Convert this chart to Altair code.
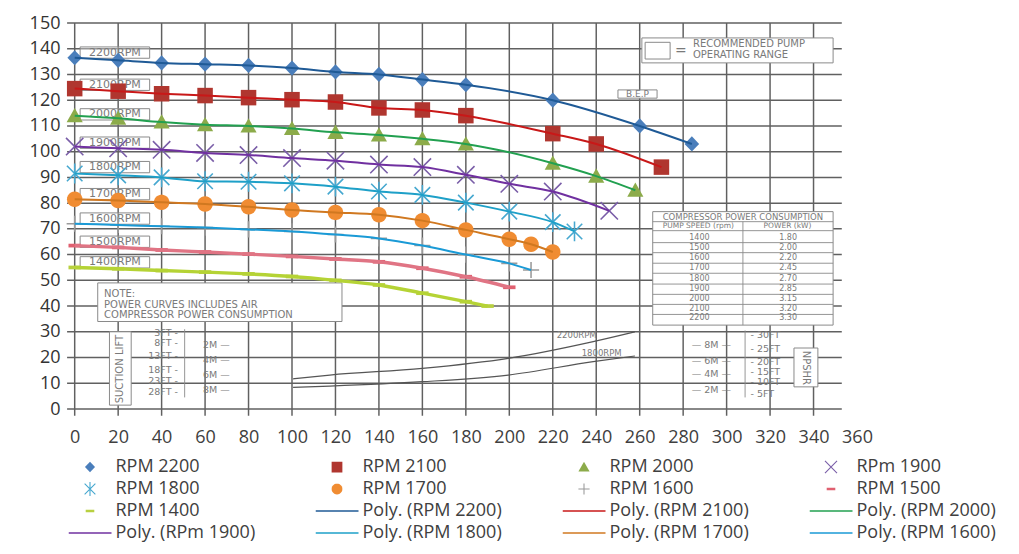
import math
import altair as alt
import pandas as pd

# ---------------- data ----------------
x_2200 = [0, 20, 40, 60, 80, 100, 120, 140, 160, 180, 220, 260, 284]
y_2200 = [136.5, 135.5, 134.5, 134, 133.5, 132.5, 131, 130, 128, 126, 120, 110, 103]
x_2100 = [0, 20, 40, 60, 80, 100, 120, 140, 160, 180, 220, 240, 270]
y_2100 = [124.5, 123.5, 122.5, 121.8, 121, 120.2, 119.3, 117, 116.2, 114, 107, 103, 94]
x_2000 = [0, 20, 40, 60, 80, 100, 120, 140, 160, 180, 220, 240, 258]
y_2000 = [114, 113, 111.5, 110.5, 110, 109, 107.5, 106.5, 105, 103, 95.5, 90.5, 85]
x_1900 = [0, 20, 40, 60, 80, 100, 120, 140, 160, 180, 200, 220, 246]
y_1900 = [102, 101.3, 100.7, 99.5, 98.7, 97.5, 96.5, 95, 94, 91, 87.5, 84.5, 77]
x_1800 = [0, 20, 40, 60, 80, 100, 120, 140, 160, 180, 200, 220, 230]
y_1800 = [91.5, 90.8, 90, 88.5, 88.3, 87.7, 86.4, 84.5, 83.2, 80.2, 76.7, 72.6, 69]
x_1700 = [0, 20, 40, 60, 80, 100, 120, 140, 160, 180, 200, 210, 220]
y_1700 = [81.5, 81, 80.3, 79.7, 78.6, 77.3, 76.4, 75.5, 73.2, 69.6, 66, 64, 61]
x_1600 = [0, 20, 40, 60, 80, 100, 120, 140, 160, 180, 200, 210]
y_1600 = [72, 71.5, 71, 70.5, 69.8, 69, 67.8, 66.3, 63.5, 60, 56.6, 54]
x_1500 = [0, 20, 40, 60, 80, 100, 120, 140, 160, 180, 200]
y_1500 = [63.5, 62.8, 61.8, 61, 60.2, 59.3, 58.3, 57.2, 54.7, 51.4, 47.3]
x_1400 = [0, 20, 40, 60, 80, 100, 120, 140, 160, 180, 190]
y_1400 = [55, 54.5, 53.8, 53.2, 52.5, 51.5, 50, 48.2, 45, 41.7, 40]

series_names = ["RPM 2200", "RPM 2100", "RPM 2000", "RPm 1900", "RPM 1800",
                "RPM 1700", "RPM 1600", "RPM 1500", "RPM 1400"]
series_x = [x_2200, x_2100, x_2000, x_1900, x_1800, x_1700, x_1600, x_1500, x_1400]
series_y = [y_2200, y_2100, y_2000, y_1900, y_1800, y_1700, y_1600, y_1500, y_1400]

poly_names = ["Poly. (RPM 2200)", "Poly. (RPM 2100)", "Poly. (RPM 2000)", "Poly. (RPm 1900)",
              "Poly. (RPM 1800)", "Poly. (RPM 1700)", "Poly. (RPM 1600)"]

x_ticks = list(range(0, 361, 20))
y_ticks = list(range(0, 151, 10))
sheet_x_lines = list(range(0, 341, 20))

# background drawing (pump curve sheet) texts
rpm_box_labels = ["2200RPM", "2100RPM", "2000RPM", "1900RPM", "1800RPM",
                  "1700RPM", "1600RPM", "1500RPM", "1400RPM"]
rpm_box_y = [138.5, 126, 114.5, 103.5, 94, 83.5, 74, 65, 57]

table_speed = ["1400", "1500", "1600", "1700", "1800", "1900", "2000", "2100", "2200"]
table_power = ["1.80", "2.00", "2.20", "2.45", "2.70", "2.85", "3.15", "3.20", "3.30"]
table_row_y = [66.6, 62.7, 58.6, 54.7, 50.5, 46.5, 42.6, 38.7, 35.2]

suction_ft = ["3FT", "8FT", "13FT", "18FT", "23FT", "28FT"]
suction_ft_y = [29.5, 25.5, 20.7, 15.2, 10.9, 6.6]
suction_m = ["2M", "4M", "6M", "8M"]
suction_m_y = [24.9, 19.0, 13.2, 7.4]
npshr_m = ["8M", "6M", "4M", "2M"]
npshr_m_y = [24.9, 18.7, 13.6, 7.4]
npshr_ft = ["30FT", "25FT", "20FT", "15FT", "10FT", "5FT"]
npshr_ft_y = [28.8, 23.2, 18.4, 14.5, 10.6, 5.7]

npshr2200_x = [100.5, 117.4, 160, 199.5, 238.6, 257.8]
npshr2200_y = [11.7, 13.2, 15.8, 19.7, 26.2, 30.0]
npshr1800_x = [100.5, 117.4, 160, 199.5, 238.6, 257.8]
npshr1800_y = [8.4, 8.9, 10.6, 13.2, 18.4, 20.6]

# ---------------- styling ----------------
marker_colors = ["#4a7ebb", "#b0362f", "#8cab4a", "#7a5ea8", "#46a8d0",
                 "#f08c32", "#9a9a9a", "#e06070", "#b8d040"]
poly_colors = ["#1f5a96", "#c81818", "#22a050", "#7030a0", "#1ea0c8", "#d07820", "#1a9ad6"]
line_1500 = "#e07484"
line_1400 = "#b5d335"
GRID = "#606060"
SHEET = "#8a8a8a"


def fmt(pts):
    return "M" + "L".join(f"{a:.3f},{b:.3f}" for a, b in pts) + "Z"


def bar(x1, y1, x2, y2, h):
    dx, dy = x2 - x1, y2 - y1
    L = math.hypot(dx, dy)
    nx, ny = -dy / L * h, dx / L * h
    return fmt([(x1 + nx, y1 + ny), (x2 + nx, y2 + ny), (x2 - nx, y2 - ny), (x1 - nx, y1 - ny)])


def poly_circle(r, n=24):
    return fmt([(r * math.cos(2 * math.pi * i / n), r * math.sin(2 * math.pi * i / n)) for i in range(n)])


shp_diamond = fmt([(0, -0.245), (0.235, 0), (0, 0.245), (-0.235, 0)])
shp_square = fmt([(-0.25, -0.25), (0.25, -0.25), (0.25, 0.25), (-0.25, 0.25)])
shp_triangle = fmt([(0, -0.25), (0.26, 0.21), (-0.26, 0.21)])
shp_x = bar(-0.28, -0.28, 0.28, 0.28, 0.025) + bar(-0.28, 0.28, 0.28, -0.28, 0.025)
shp_star = (bar(-0.25, -0.25, 0.25, 0.25, 0.025) + bar(-0.25, 0.25, 0.25, -0.25, 0.025)
            + bar(0, -0.32, 0, 0.32, 0.025))
shp_circle = poly_circle(0.25)
shp_plus = bar(-0.26, 0, 0.26, 0, 0.025) + bar(0, -0.26, 0, 0.26, 0.025)
shp_dash = bar(-0.2, 0, 0.2, 0, 0.06)
shp_line = bar(-1, 0, 1, 0, 0.035)

marker_shapes = [shp_diamond, shp_square, shp_triangle, shp_x, shp_star,
                 shp_circle, shp_plus, shp_dash, shp_dash]

legend_domain = series_names + poly_names
legend_colors = marker_colors + poly_colors
legend_shapes = marker_shapes + [shp_line] * len(poly_names)

rows = []
for name, xs, ys in zip(series_names, series_x, series_y):
    for a, b in zip(xs, ys):
        rows.append({"label": name, "x": a, "y": b})
pts = pd.DataFrame(rows)

XD = [-4, 360]
YD = [0, 150]
xs_ = alt.Scale(domain=XD, nice=False, zero=False)
ys_ = alt.Scale(domain=YD, nice=False, zero=False)
FONT = "Open Sans"
DFONT = "DejaVu Sans"

AXX = alt.Axis(values=x_ticks, grid=False, domain=False, ticks=False,
               labelFontSize=18, labelPadding=19, labelColor="#404040",
               labelFont=FONT, labelFlush=False, title=None)
AXY = alt.Axis(values=y_ticks, grid=False, domain=False, ticks=False,
               labelFontSize=18, labelPadding=6, labelColor="#333333",
               labelFont=FONT, labelFlush=False, title=None)


def X(f):
    return alt.X(f, scale=xs_, axis=AXX)


def Y(f):
    return alt.Y(f, scale=ys_, axis=AXY)


layers = []

# ---------------- background sheet ----------------
# grid of the sheet drawn as thin filled strips
grid_rows = ([{"x": v - 0.34, "x2": v + 0.34, "y": -2.6, "y2": 150} for v in sheet_x_lines]
             + [{"x": -3.5, "x2": 353, "y": v - 0.29, "y2": v + 0.29} for v in y_ticks])
layers.append(alt.Chart(pd.DataFrame(grid_rows)).mark_rect(fill=GRID, fillOpacity=1, strokeWidth=0)
              .encode(x=X("x:Q"), x2="x2:Q", y=Y("y:Q"), y2="y2:Q"))

rpm_boxes = pd.DataFrame([{"x": 2.5, "x2": 34.5, "y": v - 2.2, "y2": v + 2.2} for v in rpm_box_y])
layers.append(alt.Chart(rpm_boxes).mark_rect(fill="white", fillOpacity=0.35, stroke=SHEET, strokeWidth=1)
              .encode(x=X("x:Q"), x2="x2:Q", y=Y("y:Q"), y2="y2:Q"))

boxes = pd.DataFrame(
    [{"x": 10.6, "x2": 123, "y": 34, "y2": 49},          # NOTE
     {"x": 261, "x2": 349, "y": 134.5, "y2": 144.2},     # recommended range
     {"x": 262.5, "x2": 274, "y": 136, "y2": 142.5},     # icon
     {"x": 266, "x2": 349, "y": 32.6, "y2": 76.7},       # table
     {"x": 250, "x2": 268, "y": 120.8, "y2": 124},       # BEP
     {"x": 16, "x2": 26, "y": 1.5, "y2": 30},            # suction lift label box
     {"x": 331, "x2": 342, "y": 8.6, "y2": 23.7}]        # NPSHR label box
)
layers.append(alt.Chart(boxes).mark_rect(fill="white", fillOpacity=1, stroke=SHEET, strokeWidth=1)
              .encode(x=X("x:Q"), x2="x2:Q", y=Y("y:Q"), y2="y2:Q"))

thin = ([{"x": 266, "x2": 349, "y": v, "y2": v} for v in [72.8, 69.3] + [ry - 1.95 for ry in table_row_y[:-1]]]
        + [{"x": 307.5, "x2": 307.5, "y": 32.6, "y2": 72.8},
           {"x": 50.6, "x2": 50.6, "y": 4.5, "y2": 31},
           {"x": 308.5, "x2": 308.5, "y": 4.5, "y2": 30.5}])
layers.append(alt.Chart(pd.DataFrame(thin)).mark_rule(color=SHEET, strokeWidth=0.9)
              .encode(x=X("x:Q"), x2=alt.X2("x2:Q"), y=Y("y:Q"), y2=alt.Y2("y2:Q")))

curves = pd.DataFrame(
    [{"c": "a", "x": a, "y": b} for a, b in zip(npshr2200_x, npshr2200_y)]
    + [{"c": "b", "x": a, "y": b} for a, b in zip(npshr1800_x, npshr1800_y)]
)
layers.append(alt.Chart(curves).mark_line(color="#555555", strokeWidth=1.2, interpolate="monotone")
              .encode(x=X("x:Q"), y=Y("y:Q"), detail="c:N"))

texts = (
    [{"x": 18.5, "y": v, "t": t, "s": 11, "a": "center", "ang": 0} for t, v in zip(rpm_box_labels, rpm_box_y)]
    + [{"x": 13.5, "y": 44.8, "t": "NOTE:", "s": 10, "a": "left", "ang": 0},
       {"x": 13.5, "y": 40.6, "t": "POWER   CURVES   INCLUDES   AIR", "s": 10, "a": "left", "ang": 0},
       {"x": 13.5, "y": 36.5, "t": "COMPRESSOR   POWER   CONSUMPTION", "s": 10, "a": "left", "ang": 0},
       {"x": 284.5, "y": 141.8, "t": "RECOMMENDED   PUMP", "s": 10, "a": "left", "ang": 0},
       {"x": 284.5, "y": 137.4, "t": "OPERATING   RANGE", "s": 10, "a": "left", "ang": 0},
       {"x": 279, "y": 139.3, "t": "=", "s": 14, "a": "center", "ang": 0},
       {"x": 259, "y": 122.4, "t": "B.E.P", "s": 9, "a": "center", "ang": 0},
       {"x": 307.5, "y": 74.7, "t": "COMPRESSOR  POWER  CONSUMPTION", "s": 8.5, "a": "center", "ang": 0},
       {"x": 287, "y": 71.1, "t": "PUMP SPEED (rpm)", "s": 7.5, "a": "center", "ang": 0},
       {"x": 328, "y": 71.1, "t": "POWER (kW)", "s": 7.5, "a": "center", "ang": 0},
       {"x": 21, "y": 15.5, "t": "SUCTION LIFT", "s": 10, "a": "center", "ang": 270},
       {"x": 336.5, "y": 16, "t": "NPSHR", "s": 10, "a": "center", "ang": 90},
       {"x": 231, "y": 28.8, "t": "2200RPM", "s": 8.5, "a": "center", "ang": 0},
       {"x": 242.5, "y": 21.8, "t": "1800RPM", "s": 8.5, "a": "center", "ang": 0}]
    + [{"x": 287.5, "y": v, "t": t, "s": 8, "a": "center", "ang": 0} for t, v in zip(table_speed, table_row_y)]
    + [{"x": 328.3, "y": v, "t": t, "s": 8, "a": "center", "ang": 0} for t, v in zip(table_power, table_row_y)]
    + [{"x": 47.5, "y": v, "t": t + " -", "s": 9.5, "a": "right", "ang": 0} for t, v in zip(suction_ft, suction_ft_y)]
    + [{"x": 59, "y": v, "t": t + " —", "s": 9.5, "a": "left", "ang": 0} for t, v in zip(suction_m, suction_m_y)]
    + [{"x": 302, "y": v, "t": "— " + t + " —", "s": 9.5, "a": "right", "ang": 0} for t, v in zip(npshr_m, npshr_m_y)]
    + [{"x": 311, "y": v, "t": "- " + t, "s": 9.5, "a": "left", "ang": 0} for t, v in zip(npshr_ft, npshr_ft_y)]
)
tdf = pd.DataFrame(texts)
for (al, ang), g in tdf.groupby(["a", "ang"]):
    layers.append(alt.Chart(g).mark_text(font=DFONT, color="#7a7a7a", align=al, angle=int(ang),
                                         baseline="middle")
                  .encode(x=X("x:Q"), y=Y("y:Q"), text="t:N", size=alt.Size("s:Q", scale=None)))

# ---------------- data marks ----------------
legend = alt.Legend(title=None, orient="none", legendX=2.5, legendY=435, columns=4,
                    direction="horizontal", clipHeight=18,
                    symbolSize=1849, labelFontSize=18, labelFont=FONT, labelColor="#404040",
                    labelOffset=4, rowPadding=4, columnPadding=60, gridAlign="all",
                    padding=0, labelLimit=400, symbolStrokeWidth=0)

points = alt.Chart(pts).mark_point(filled=True, opacity=1, size=3850).encode(
    x=X("x:Q"), y=Y("y:Q"),
    color=alt.Color("label:N", scale=alt.Scale(domain=legend_domain, range=legend_colors), legend=legend),
    shape=alt.Shape("label:N", scale=alt.Scale(domain=legend_domain, range=legend_shapes), legend=legend),
)
layers.append(points)

line_colors = poly_colors + [line_1500, line_1400]
line_widths = [2, 2, 2, 2, 2, 2, 2, 3.4, 3.4]
for name, col, w in zip(series_names, line_colors, line_widths):
    layers.append(
        alt.Chart(pts).transform_filter(alt.datum.label == name)
        .mark_line(color=col, strokeWidth=w, interpolate="monotone")
        .encode(x=X("x:Q"), y=Y("y:Q"), order="x:Q")
    )

chart = alt.layer(*layers).properties(
    width=791, height=386,
    autosize=alt.AutoSizeParams(type="none"),
    padding={"left": 58, "top": 15, "right": 150, "bottom": 140},
).configure(background="white").configure_view(stroke=None)

chart.save("out.html", embed_options={"renderer": "svg", "actions": False})
